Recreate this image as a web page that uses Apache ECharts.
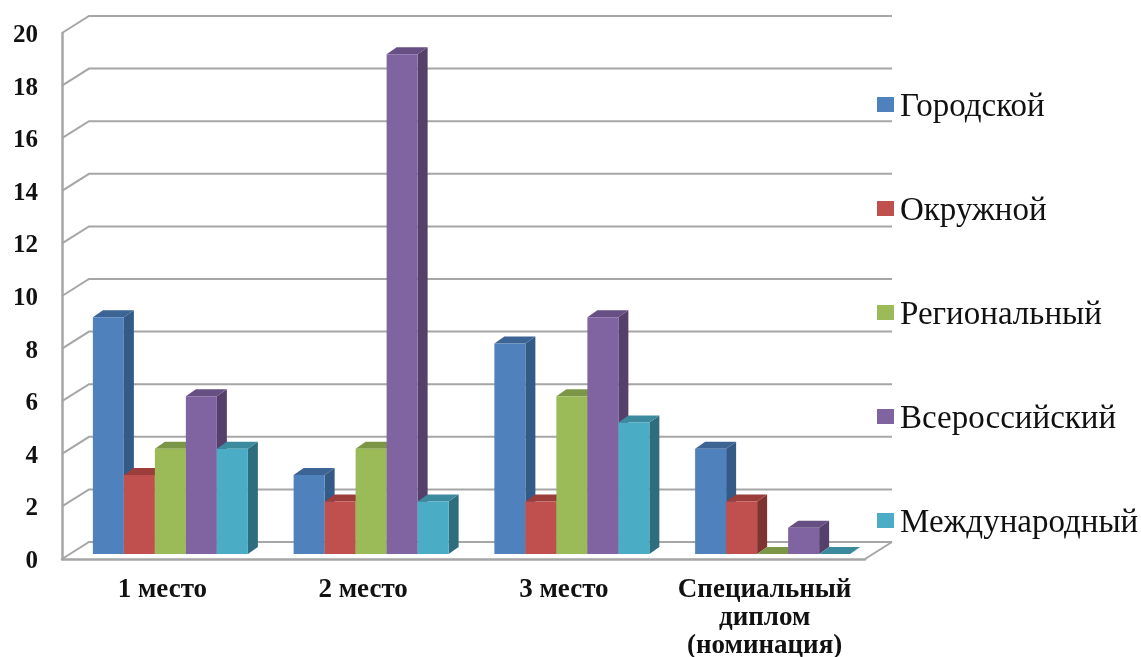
<!DOCTYPE html>
<html><head><meta charset="utf-8">
<style>html,body{margin:0;padding:0;background:#fff}#c{width:1141px;height:657px}</style>
<script src="https://cdn.jsdelivr.net/npm/echarts@6/dist/echarts.min.js"></script>
</head><body><div id="c"></div>
<script>
const categories = ['1 место', '2 место', '3 место', 'Специальный\nдиплом\n(номинация)'];
const seriesNames = ['Городской', 'Окружной', 'Региональный', 'Всероссийский', 'Международный'];
const gorodskoy = [9, 3, 8, 4];
const okruzhnoy = [3, 2, 2, 2];
const regionalny = [4, 4, 6, 0];
const vserossiysky = [6, 19, 9, 1];
const mezhdunarodny = [4, 2, 5, 0];
const yTicks = [0, 2, 4, 6, 8, 10, 12, 14, 16, 18, 20];
const values = [gorodskoy, okruzhnoy, regionalny, vserossiysky, mezhdunarodny];
const frontColors = ['#4F81BD', '#C0504D', '#9BBB59', '#8064A2', '#4BACC6'];
const topColors = ['#3C6494', '#9A3D3B', '#7C9647', '#664F82', '#3C8A9E'];
const sideColors = ['#345A87', '#7F3331', '#667B3A', '#55406C', '#2E6D7E'];

const WALL_DX = 27, WALL_DY = -17;
const BAR_SHIFT_X = 8, BAR_SHIFT_Y = -5;
const BAR_W = 31, BAR_DX = 10, BAR_DY = -7;
const GRID_STROKE = {stroke: '#A6A6A6', lineWidth: 2, fill: 'none'};

function wallItem(params, api) {
  const v = api.value(1);
  const band = api.size([1, 0])[0];
  const left = api.coord([0, v]);
  const right = api.coord([categories.length - 1, v]);
  const x0 = left[0] - band / 2, y = left[1], x1 = right[0] + band / 2;
  const children = [{
    type: 'polyline',
    shape: {points: [[x0, y], [x0 + WALL_DX, y + WALL_DY], [x1 + WALL_DX, y + WALL_DY]]},
    style: GRID_STROKE
  }];
  if (v === 0) {
    children.push({
      type: 'line',
      shape: {x1: x1, y1: y, x2: x1 + WALL_DX, y2: y + WALL_DY},
      style: GRID_STROKE
    });
  }
  return {type: 'group', children: children};
}

function barRenderer(s) {
  return function (params, api) {
    const c = api.value(0), v = api.value(1);
    const top = api.coord([c, v]), base = api.coord([c, 0]);
    const x0 = top[0] + BAR_SHIFT_X + (s - 2.5) * BAR_W, x1 = x0 + BAR_W;
    const yT = top[1] + BAR_SHIFT_Y, yB = base[1] + BAR_SHIFT_Y;
    return {type: 'group', children: [
      {type: 'polygon', shape: {points: [[x1, yT], [x1 + BAR_DX, yT + BAR_DY], [x1 + BAR_DX, yB + BAR_DY], [x1, yB]]}, style: {fill: sideColors[s]}},
      {type: 'polygon', shape: {points: [[x0, yT], [x0 + BAR_DX, yT + BAR_DY], [x1 + BAR_DX, yT + BAR_DY], [x1, yT]]}, style: {fill: topColors[s]}},
      {type: 'rect', shape: {x: x0, y: yT, width: BAR_W, height: yB - yT}, style: {fill: frontColors[s]}}
    ]};
  };
}

const series = [{
  type: 'custom', name: 'walls', silent: true, z: 1,
  renderItem: wallItem, encode: {x: 0, y: 1},
  data: yTicks.map(t => [0, t])
}];
seriesNames.forEach((name, s) => {
  series.push({
    type: 'custom', name: name, z: 3 + s, clip: false,
    itemStyle: {color: frontColors[s]},
    renderItem: barRenderer(s), encode: {x: 0, y: 1},
    data: values[s].map((v, c) => [c, v])
  });
});

const chart = echarts.init(document.getElementById('c'));
chart.setOption({
  animation: false,
  backgroundColor: '#fff',
  grid: {left: 62, right: 276, top: 33, bottom: 98, containLabel: false, outerBoundsMode: 'none'},
  legend: {
    data: seriesNames, orient: 'vertical', left: 877, top: 91, padding: 0,
    icon: 'rect', itemWidth: 17, itemHeight: 15, itemGap: 71, selectedMode: false,
    formatter: name => '{t|' + name + '}',
    textStyle: {
      rich: {t: {fontFamily: 'Liberation Serif', fontSize: 33, color: '#111', padding: [6, 0, 0, 1]}}
    }
  },
  xAxis: {
    type: 'category', data: categories,
    axisLine: {lineStyle: {color: '#A6A6A6', width: 2.5}}, axisTick: {show: false},
    axisLabel: {interval: 0, margin: 17, fontFamily: 'Liberation Serif', fontWeight: 'bold', fontSize: 27, lineHeight: 28, color: '#111'}
  },
  yAxis: {
    type: 'value', min: 0, max: 20, interval: 2,
    axisLine: {show: true, lineStyle: {color: '#A6A6A6', width: 2.5}}, axisTick: {show: false},
    splitLine: {show: false},
    axisLabel: {
      margin: 24,
      formatter: v => '{n|' + v + '}',
      rich: {n: {fontFamily: 'Liberation Serif', fontWeight: 'bold', fontSize: 25, color: '#111', padding: [5, 0, 0, 0]}}
    }
  },
  series: series
});
</script></body></html>
